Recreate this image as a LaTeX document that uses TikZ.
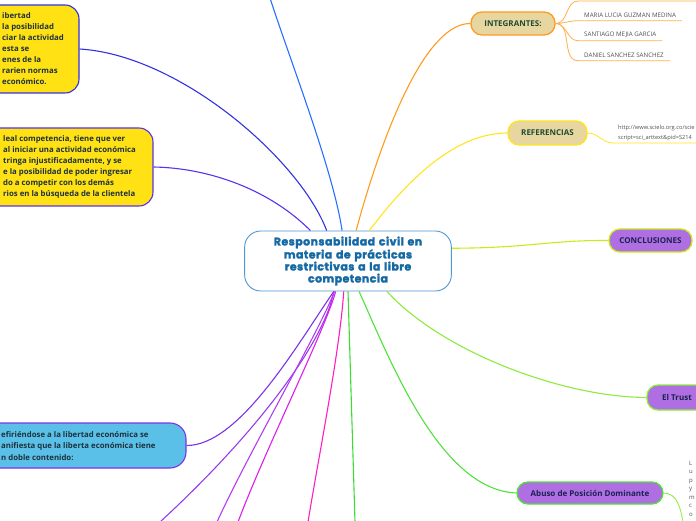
\documentclass[tikz,border=0pt]{standalone}
\usepackage{fontspec}
\setmainfont{Open Sans}
\newfontfamily\titlefont{Poppins}[LetterSpace=4,BoldFeatures={FakeBold=2}]
\definecolor{hubline}{RGB}{80,150,210}
\definecolor{hubtext}{RGB}{20,105,165}
\definecolor{boxyellow}{RGB}{255,225,20}
\definecolor{boxblue}{RGB}{90,192,232}
\definecolor{boxtext}{RGB}{30,50,60}
\definecolor{libline}{RGB}{50,50,225}
\definecolor{lealline}{RGB}{90,50,235}
\definecolor{refiline}{RGB}{125,50,230}
\definecolor{topline}{RGB}{40,110,255}
\definecolor{intline}{RGB}{255,155,30}
\definecolor{refline}{RGB}{255,228,30}
\definecolor{conline}{RGB}{200,235,30}
\definecolor{trustline}{RGB}{140,235,60}
\definecolor{abuline}{RGB}{80,225,60}
\definecolor{tanfill}{RGB}{232,214,160}
\definecolor{tantext}{RGB}{30,75,50}
\definecolor{purfill}{RGB}{175,110,225}
\definecolor{purtext}{RGB}{25,35,80}
\definecolor{itemtext}{RGB}{80,80,80}
\definecolor{pa}{RGB}{150,60,240}
\definecolor{pb}{RGB}{180,60,240}
\definecolor{pc}{RGB}{220,30,230}
\definecolor{pd}{RGB}{255,30,190}
\definecolor{ga}{RGB}{60,220,50}
\begin{document}
\begin{tikzpicture}[x=1pt,y=1pt,font=\fontsize{7}{11}\selectfont,
  hub/.style={draw=hubline,fill=white,rounded corners=16pt,line width=0.9pt,minimum width=204pt,minimum height=60pt,text width=200pt,align=center,text=hubtext,font=\titlefont\bfseries\fontsize{11}{12}\selectfont},
  ybx/.style={fill=boxyellow,rounded corners=14pt,line width=1.1pt},
  bbx/.style={fill=boxblue,draw=refiline,rounded corners=16pt,line width=1.1pt},
  box/.style={anchor=west,inner sep=0pt,align=left,text=boxtext,font=\bfseries\fontsize{7.8}{11}\selectfont},
  tan/.style={fill=tanfill,rounded corners=11pt,line width=1.3pt,text=tantext,font=\bfseries\fontsize{8}{9}\selectfont},
  pur/.style={fill=purfill,rounded corners=11pt,line width=1.3pt,text=purtext,font=\bfseries\fontsize{8}{9}\selectfont},
  itm/.style={anchor=south west,inner xsep=6pt,inner ysep=3pt,text=itemtext,font=\fontsize{6.2}{7}\selectfont},
  br/.style={line width=1.1pt},
  sub/.style={line width=0.8pt}]
  \useasboundingbox (0,0) rectangle (696,520);
  \clip (0,0) rectangle (696,520);
  \node[hub] (hub) at (348,259) {Responsabilidad civil en\\materia de prácticas\\restrictivas a la libre\\competencia};
  \node[ybx,draw=libline,minimum width=99pt,minimum height=88pt] (lib) at (29.5,471) {};
  \node[box] (libtx) at (2,471) {ibertad\\la posibilidad\\ciar la actividad\\esta se\\enes de la\\rarien normas\\económico.};
  \node[ybx,draw=lealline,minimum width=173pt,minimum height=78pt] (leal) at (66.5,353) {};
  \node[box] (lealtx) at (3,353) {leal competencia, tiene que ver\\al iniciar una actividad económica\\tringa injustificadamente, y se\\e la posibilidad de poder ingresar\\do a competir con los demás\\rios en la búsqueda de la clientela};
  \node[bbx,minimum width=206pt,minimum height=45pt] (refi) at (83,74.5) {};
  \node[box,font=\bfseries\fontsize{7.8}{11.5}\selectfont] (refitx) at (1,74) {efiriéndose a la libertad económica se\\anifiesta que la liberta económica tiene\\n doble contenido:};
  \node[tan,draw=intline,minimum width=84pt,minimum height=23pt] (int) at (513,496.5) {INTEGRANTES:};
  \node[tan,draw=refline,minimum width=79pt,minimum height=24pt] (refs) at (547.5,387) {REFERENCIAS};
  \node[pur,draw=conline,minimum width=83pt,minimum height=23pt] (conc) at (650.5,279.5) {CONCLUSIONES};
  \node[pur,draw=trustline,minimum width=60pt,minimum height=25pt] (trust) at (677,122.5) {El Trust};
  \node[pur,draw=abuline,minimum width=146pt,minimum height=22pt] (abuso) at (590,27) {Abuso de Posición Dominante};
  \node[itm] (m1) at (578,499.3) {MARIA LUCIA GUZMAN MEDINA};
  \node[itm] (m2) at (578,479.3) {SANTIAGO MEJIA GARCIA};
  \node[itm] (m3) at (578,459.3) {DANIEL SANCHEZ SANCHEZ};
  \coordinate (m0) at (578,519);
  \coordinate (m0e) at (700,519);
  \node[itm,inner xsep=5pt,inner ysep=2pt,align=left,font=\fontsize{5.7}{9.5}\selectfont] (url) at (613,377) {http://www.scielo.org.co/scie\\script=sci\_arttext\&pid=S214};
  \coordinate (urle) at (700,377);
  \node[anchor=north west,inner sep=0pt,align=left,text=itemtext,font=\fontsize{6}{8.5}\selectfont] (abtx) at (689,59) {L\\u\\p\\y\\m\\c\\o};
  \coordinate (abx) at (683,-2);
  \coordinate (offa) at (270,522);
  \coordinate (offb) at (160,-2);
  \coordinate (offc) at (217,-2);
  \coordinate (offd) at (238,-2);
  \coordinate (offe) at (308,-2);
  \coordinate (offf) at (355,-2);
  \draw[br,libline] (hub.125) .. controls (300,360) and (180,465) .. (lib.east);
  \draw[br,lealline] (hub.141) .. controls (270,330) and (210,352) .. (leal.east);
  \draw[br,topline] (hub.101) .. controls (333,350) and (290,460) .. (offa);
  \draw[br,intline] (hub.75) .. controls (375,360) and (420,497) .. (int.west);
  \draw[br,refline] (hub.55) .. controls (400,330) and (450,387) .. (refs.west);
  \draw[br,conline] (hub.7) .. controls (530,272) and (550,280) .. (conc.west);
  \draw[br,trustline] (hub.-38) .. controls (440,170) and (560,123) .. (trust.west);
  \draw[br,abuline] (hub.-70) .. controls (390,160) and (440,30) .. (abuso.west);
  \draw[br,refiline] (hub.245) .. controls (300,180) and (240,74) .. (refi.east);
  \draw[br,pa] (hub.245) .. controls (325,180) and (260,90) .. (offb);
  \draw[br,pb] (hub.246.6) .. controls (320,190) and (250,70) .. (offc);
  \draw[br,pc] (hub.248.2) .. controls (325,190) and (265,70) .. (offd);
  \draw[br,pd] (hub.262.4) .. controls (340,170) and (318,60) .. (offe);
  \draw[br,ga] (hub.south) -- (offf);
  \draw[sub,intline!80] (int.east) to[out=0,in=180] (m0) -- (m0e);
  \draw[sub,intline!80] (int.east) to[out=0,in=180] (m1.south west) -- (m1.south east);
  \draw[sub,intline!80] (int.east) to[out=0,in=180] (m2.south west) -- (m2.south east);
  \draw[sub,intline!80] (int.east) to[out=0,in=180] (m3.south west) -- (m3.south east);
  \draw[sub,refline] (refs.east) to[out=0,in=180] (url.south west) -- (urle);
  \draw[sub,trustline] (abuso.east) to[out=0,in=100] (abx);
\end{tikzpicture}
\end{document}
